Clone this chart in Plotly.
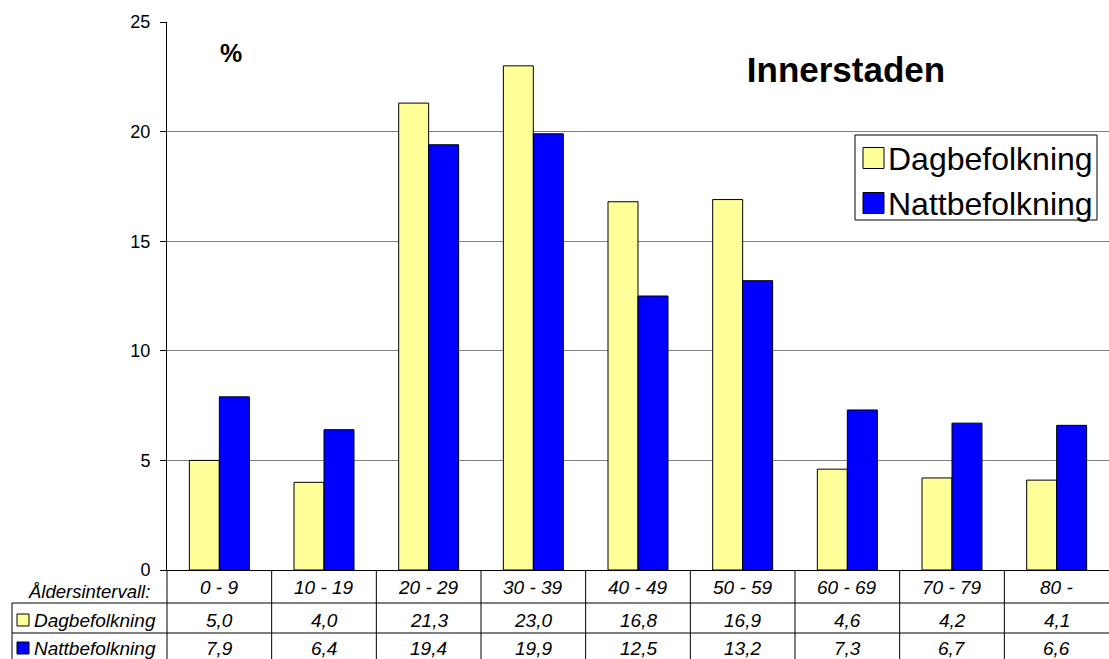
import plotly.graph_objects as go

# Age groups and population shares (%)
age_groups = ["0 - 9", "10 - 19", "20 - 29", "30 - 39", "40 - 49",
              "50 - 59", "60 - 69", "70 - 79", "80 -"]
day_pop = [5.0, 4.0, 21.3, 23.0, 16.8, 16.9, 4.6, 4.2, 4.1]
night_pop = [7.9, 6.4, 19.4, 19.9, 12.5, 13.2, 7.3, 6.7, 6.6]
series_names = ["Dagbefolkning", "Nattbefolkning"]
series_colors = ["#FFFF99", "#0000FF"]
y_ticks = [0, 5, 10, 15, 20, 25]

W, H = 1109, 659
ML, MR, MT, MB = 167, 0, 22, 89
plot_w = W - ML - MR
plot_h = H - MT - MB


def px_x(px):
    return (px - ML) / plot_w


def px_y(py):
    return (H - MB - py) / plot_h


FONT = "Arial, Liberation Sans, sans-serif"
idx = list(range(len(age_groups)))

fig = go.Figure()
for name, vals, col in zip(series_names, [day_pop, night_pop], series_colors):
    fig.add_trace(go.Bar(
        x=idx, y=vals, name=name, showlegend=False,
        marker=dict(color=col, line=dict(color="black", width=1)),
    ))

shapes = []
annotations = []
black = dict(color="black", width=1)

# Data table beneath the plot
for ry in [603, 633]:
    shapes.append(dict(type="line", xref="paper", yref="paper",
                       x0=px_x(12), x1=1, y0=px_y(ry), y1=px_y(ry), line=black))
for i in range(len(age_groups)):
    shapes.append(dict(type="line", xref="paper", yref="paper",
                       x0=i / len(age_groups), x1=i / len(age_groups),
                       y0=px_y(570), y1=px_y(H + 2), line=black))
shapes.append(dict(type="line", xref="paper", yref="paper",
                   x0=px_x(12), x1=px_x(12), y0=px_y(603), y1=px_y(H + 2),
                   line=black))

TABLE_FONT = dict(family=FONT, size=19, color="black")
row_y = [587, 620, 648]
annotations.append(dict(text="<i>Åldersintervall:</i>", xref="paper",
                        yref="paper", x=px_x(151), y=px_y(580),
                        xanchor="right", yanchor="top", showarrow=False,
                        borderpad=0,
                        font=dict(family=FONT, size=18.5, color="black")))
for i, g in enumerate(age_groups):
    annotations.append(dict(text=f"<i>{g}</i>", xref="x", yref="paper",
                            x=i, y=px_y(row_y[0]), showarrow=False,
                            yanchor="middle", font=TABLE_FONT))
for r, (name, vals, col) in enumerate(zip(series_names, [day_pop, night_pop],
                                          series_colors)):
    yc = row_y[r + 1]
    shapes.append(dict(type="rect", xref="paper", yref="paper",
                       x0=px_x(17), x1=px_x(29), y0=px_y(yc + 6), y1=px_y(yc - 6),
                       fillcolor=col, line=black))
    annotations.append(dict(text=f"<i>{name}</i>", xref="paper", yref="paper",
                            x=px_x(32), y=px_y(yc), xanchor="left",
                            yanchor="middle", showarrow=False,
                            font=TABLE_FONT))
    for i, v in enumerate(vals):
        annotations.append(dict(text="<i>" + f"{v:.1f}".replace(".", ",") + "</i>",
                                xref="x", yref="paper", x=i, y=px_y(yc),
                                yanchor="middle", showarrow=False,
                                font=TABLE_FONT))

# Legend box
shapes.append(dict(type="rect", xref="paper", yref="paper",
                   x0=px_x(855), x1=px_x(1097), y0=px_y(220), y1=px_y(135),
                   fillcolor="white", line=black, layer="above"))
for r, (name, col) in enumerate(zip(series_names, series_colors)):
    yc = 158 + 45 * r
    shapes.append(dict(type="rect", xref="paper", yref="paper",
                       x0=px_x(863), x1=px_x(884), y0=px_y(yc + 10.5),
                       y1=px_y(yc - 10.5), fillcolor=col, line=black,
                       layer="above"))
    annotations.append(dict(text=name, xref="paper", yref="paper",
                            x=px_x(886), y=px_y(yc + 1), xanchor="left",
                            yanchor="middle", showarrow=False,
                            font=dict(family=FONT, size=32, color="black")))

annotations.append(dict(text="<b>%</b>", xref="paper", yref="paper",
                        x=px_x(218), y=px_y(53), showarrow=False,
                        yanchor="middle",
                        font=dict(family=FONT, size=25, color="black")))

fig.update_layout(
    width=W, height=H,
    margin=dict(l=ML, r=MR, t=MT, b=MB, pad=0),
    paper_bgcolor="white", plot_bgcolor="white",
    barmode="group", bargap=0.427, bargroupgap=0, showlegend=False,
    title=dict(text="<b>Innerstaden</b>", xref="paper", x=px_x(846),
               xanchor="center", yref="container", y=1 - 70 / H,
               yanchor="middle",
               font=dict(family=FONT, size=35, color="black")),
    xaxis=dict(range=[-0.5, len(age_groups) - 0.5], showticklabels=False,
               showgrid=False, zeroline=False, showline=True,
               linecolor="black", linewidth=1, ticks=""),
    yaxis=dict(range=[0, 25], tickvals=y_ticks, showgrid=True,
               gridcolor="#808080", gridwidth=1, zeroline=False,
               showline=True, linecolor="black", linewidth=1,
               ticks="outside", ticklen=6, tickcolor="black",
               ticklabelstandoff=6,
               tickfont=dict(family=FONT, size=18, color="black")),
    shapes=shapes, annotations=annotations,
)

fig.write_html("out.html")
